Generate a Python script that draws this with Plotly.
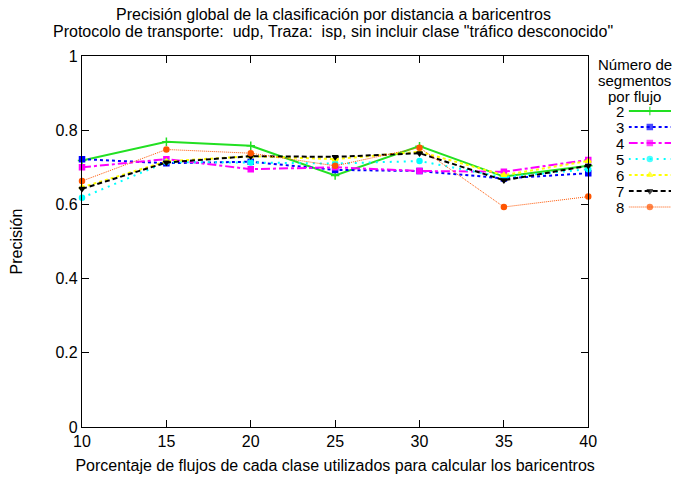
import plotly.graph_objects as go

x_pct = [10, 15, 20, 25, 30, 35, 40]
series_names = ["2", "3", "4", "5", "6", "7", "8"]
seg2 = [0.718, 0.769, 0.758, 0.678, 0.757, 0.675, 0.704]
seg3 = [0.722, 0.711, 0.715, 0.693, 0.690, 0.670, 0.684]
seg4 = [0.700, 0.722, 0.695, 0.700, 0.690, 0.688, 0.720]
seg5 = [0.618, 0.714, 0.713, 0.710, 0.717, 0.673, 0.695]
seg6 = [0.646, 0.716, 0.730, 0.722, 0.742, 0.679, 0.717]
seg7 = [0.642, 0.713, 0.730, 0.728, 0.738, 0.665, 0.704]
seg8 = [0.663, 0.748, 0.738, 0.704, 0.753, 0.593, 0.621]
all_series = [seg2, seg3, seg4, seg5, seg6, seg7, seg8]
y_ticks = [0, 0.2, 0.4, 0.6, 0.8, 1]
y_ticktext = ["0", "0.2", "0.4", "0.6", "0.8", "1"]

title_1 = "Precisión global de la clasificación por distancia a baricentros"
title_2 = "Protocolo de transporte:  udp, Traza:  isp, sin incluir clase \"tráfico desconocido\""
legend_title = ["Número de", "segmentos", "por flujo"]

styles = [
    dict(color="#22e022", dash="solid", width=2, symbol="cross-thin-open", msize=6),
    dict(color="#0000ff", dash="dot", width=2, symbol="square", msize=5),
    dict(color="#ff00ff", dash="dashdot", width=2, symbol="square", msize=5),
    dict(color="#00ffff", dash="2px,5px", width=2, symbol="circle", msize=5),
    dict(color="#ffff00", dash="dot", width=2, symbol="triangle-up", msize=5),
    dict(color="#000000", dash="5px,3px", width=2, symbol="triangle-down", msize=5),
    dict(color="#ff5500", dash="1px,1px", width=1, symbol="circle", msize=5),
]

FONT = "Liberation Sans, Arial, sans-serif"
FS = 16
FS_LEG = 15
W, H = 686, 479
ML, MR, MT, MB = 82, 6, 56, 52
pw = W - ML - MR
ph = H - MT - MB
main_right = 596


def px_x(p):
    return (p - ML) / pw


def px_y(p):
    return (MT + ph - p) / ph


fig = go.Figure()
for name, vals, st in zip(series_names, all_series, styles):
    fig.add_trace(go.Scatter(
        x=x_pct, y=vals, mode="lines+markers", name=name, showlegend=False,
        line=dict(color=st["color"], dash=st["dash"], width=st["width"]),
        marker=dict(symbol=st["symbol"], size=st["msize"], color=st["color"],
                    line=dict(color=st["color"], width=1.5)),
        xaxis="x", yaxis="y", cliponaxis=False,
    ))

# custom gnuplot-style legend
leg_y0 = 111
leg_dy = 16
for i, (name, st) in enumerate(zip(series_names, styles)):
    yv = px_y(leg_y0 + i * leg_dy)
    fig.add_trace(go.Scatter(
        x=[0, 0.5, 1], y=[yv, yv, yv], mode="lines+markers", showlegend=False,
        line=dict(color=st["color"], dash=st["dash"], width=st["width"]),
        marker=dict(symbol=st["symbol"], size=[0, st["msize"], 0], color=st["color"],
                    line=dict(color=st["color"], width=1.5)),
        xaxis="x2", yaxis="y2", hoverinfo="skip", cliponaxis=False,
    ))
    fig.add_annotation(x=px_x(633), y=yv, xref="paper", yref="paper",
                       text=name, showarrow=False, xanchor="right", yanchor="middle",
                       borderpad=0,
                       font=dict(family=FONT, size=FS_LEG, color="#000"))

for j, line in enumerate(legend_title):
    fig.add_annotation(x=px_x(643), y=px_y(64 + 16 * j), xref="paper", yref="paper",
                       text=line, showarrow=False, xanchor="center", yanchor="middle",
                       borderpad=0,
                       font=dict(family=FONT, size=FS_LEG, color="#000"))

for txt, yp in [(title_1, 15), (title_2, 31)]:
    fig.add_annotation(x=px_x(337), y=px_y(yp), xref="paper", yref="paper",
                       text=txt, showarrow=False, xanchor="center", yanchor="middle",
                       borderpad=0,
                       font=dict(family=FONT, size=FS, color="#000"))

fig.update_layout(
    width=W, height=H,
    margin=dict(l=ML, r=MR, t=MT, b=MB),
    paper_bgcolor="white", plot_bgcolor="white",
    font=dict(family=FONT, size=FS, color="#000"),
    xaxis=dict(domain=[0, px_x(main_right)], range=[10, 40], tickvals=x_pct,
               showline=True, linecolor="#000", linewidth=1.2, mirror="ticks",
               ticks="inside", ticklen=7, tickcolor="#000", showgrid=False, zeroline=False,
               title=dict(text="Porcentaje de flujos de cada clase utilizados para calcular los baricentros",
                          standoff=10, font=dict(size=FS)),
               tickfont=dict(size=FS)),
    yaxis=dict(range=[0, 1], tickvals=y_ticks, ticktext=y_ticktext,
               showline=True, linecolor="#000", linewidth=1.2, mirror="ticks",
               ticks="inside", ticklen=7, tickcolor="#000", showgrid=False, zeroline=False,
               title=dict(text="Precisión", standoff=28, font=dict(size=FS)),
               tickfont=dict(size=FS)),
    xaxis2=dict(domain=[px_x(637), px_x(680)], range=[0, 1], visible=False,
                anchor="y2"),
    yaxis2=dict(domain=[0, 1], range=[0, 1], visible=False, anchor="x2"),
)

fig.write_html("out.html")
